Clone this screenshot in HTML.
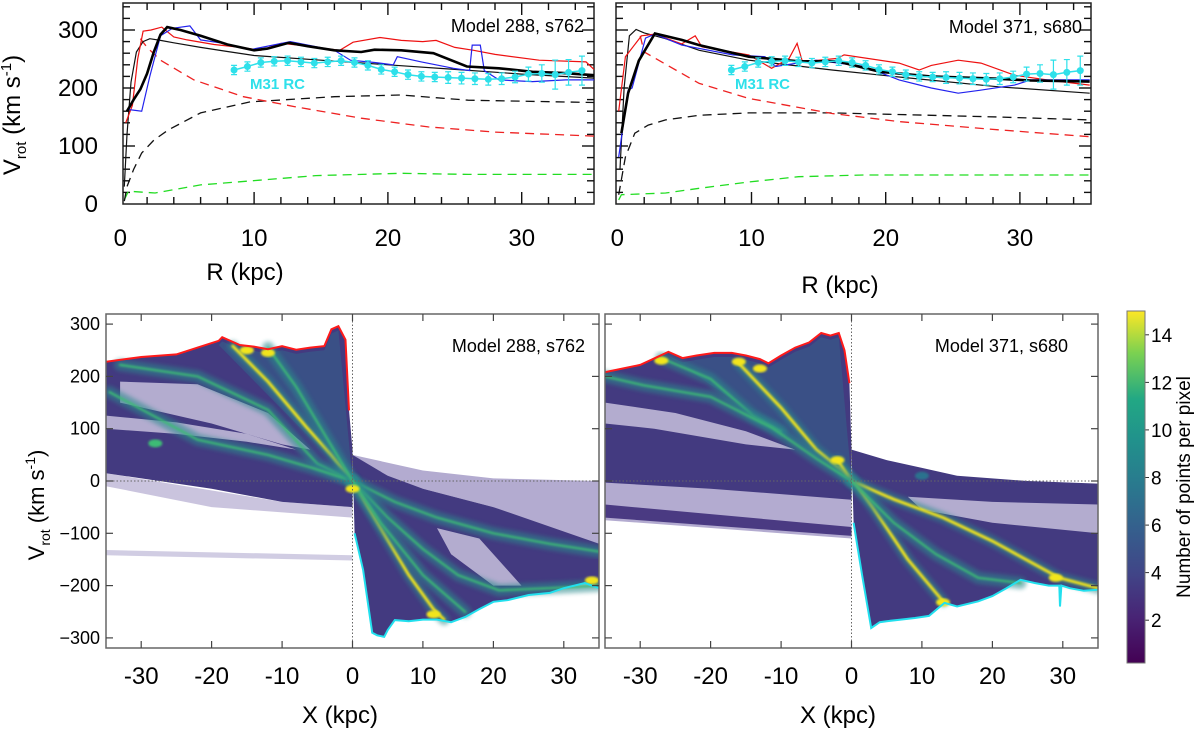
<!DOCTYPE html>
<html><head><meta charset="utf-8">
<style>
html,body{margin:0;padding:0;background:#fff;}
svg{display:block;font-family:"Liberation Sans",sans-serif;}
</style></head>
<body>
<svg id="fig" width="1200" height="730" viewBox="0 0 1200 730" xmlns="http://www.w3.org/2000/svg">
<defs>
<linearGradient id="viridis" x1="0" y1="1" x2="0" y2="0">
<stop offset="0" stop-color="#440154"/><stop offset="0.13" stop-color="#482475"/>
<stop offset="0.25" stop-color="#414487"/><stop offset="0.38" stop-color="#355f8d"/>
<stop offset="0.5" stop-color="#2a788e"/><stop offset="0.63" stop-color="#21918c"/>
<stop offset="0.75" stop-color="#22a884"/><stop offset="0.88" stop-color="#7ad151"/>
<stop offset="1" stop-color="#fde725"/></linearGradient>
<filter id="blur2"><feGaussianBlur stdDeviation="2"/></filter>
<filter id="blur1"><feGaussianBlur stdDeviation="1"/></filter>
<clipPath id="clipBL"><rect x="106" y="314" width="493" height="334"/></clipPath>
<clipPath id="clipBR"><rect x="605" y="314" width="493" height="334"/></clipPath>
</defs>
<g id="layer"></g>
<text x="20" y="115" transform="rotate(-90 20 115)" text-anchor="middle" font-size="24">V<tspan font-size="15" dy="6">rot</tspan><tspan dy="-6"> (km s</tspan><tspan font-size="15" dy="-9">-1</tspan><tspan dy="9">)</tspan></text>
<text x="44" y="505" transform="rotate(-90 44 505)" text-anchor="middle" font-size="22">V<tspan font-size="14" dy="6">rot</tspan><tspan dy="-6"> (km s</tspan><tspan font-size="14" dy="-9">-1</tspan><tspan dy="9">)</tspan></text>
<text x="245" y="280" text-anchor="middle" font-size="24">R  (kpc)</text>
<text x="840" y="293" text-anchor="middle" font-size="24">R  (kpc)</text>
<text x="340" y="723" text-anchor="middle" font-size="24">X  (kpc)</text>
<text x="838" y="723" text-anchor="middle" font-size="24">X  (kpc)</text>
<text x="584" y="32" text-anchor="end" font-size="18">Model 288, s762</text>
<text x="1082" y="33" text-anchor="end" font-size="18">Model 371, s680</text>
<text x="585" y="352" text-anchor="end" font-size="18">Model 288, s762</text>
<text x="1068" y="352" text-anchor="end" font-size="18">Model 371, s680</text>
<text x="250" y="89" font-size="15" font-weight="bold" fill="#2ee0ea">M31 RC</text>
<text x="735" y="89" font-size="15" font-weight="bold" fill="#2ee0ea">M31 RC</text>
<rect x="1127" y="311" width="18" height="352" fill="url(#viridis)" stroke="#777" stroke-width="1"/>
<text x="1190" y="487" transform="rotate(-90 1190 487)" text-anchor="middle" font-size="19">Number of points per pixel</text>
</svg>
<script>
const r288_thin=[0.3,0.5,0.8,1.2,1.7,2.2,3,4,6,8,10,15,20,25,30,35.4];
const v288_thin=[30,120,210,262,280,285,282,278,270,263,256,248,240,232,224,217];
const r288_thick=[0.5,1,1.5,2,2.5,3,3.5,4.5,6,8,10,11,12.6,14,16,18,19,21,23.4,25.9,28.3,30.8,33,35.4];
const v288_thick=[160,180,198,225,262,292,305,300,290,275,265,268,278,272,265,262,266,265,260,237,234,228,226,222];
const r288_red=[0.4,0.9,1.3,1.7,2.3,3.1,4,5,7,9,10.5,12,14,16.4,17.4,19.4,21,22.6,23.6,25,26.4,28,31.3,34.8,35.4];
const v288_red=[140,170,250,298,300,305,288,283,275,270,265,277,272,265,279,287,282,280,282,270,265,258,248,245,232];
const r288_blue=[0.6,1.6,2.2,3,3.9,5.2,6,7.7,9.7,12.7,16,17.2,19,20.4,20.7,22.5,24.9,26.1,26.3,26.6,26.9,27.2,28.3,30.8,33.3,35.4];
const v288_blue=[163,160,220,290,303,307,283,277,266,280,265,248,244,240,254,245,234,230,274,274,274,230,214,211,214,214];
const r288_disk=[1.5,2,3,5.5,9.2,13,18,23,28,35.4];
const v288_disk=[285,270,248,214,185,168,148,133,124,117];
const r288_halo=[0.3,0.5,1,1.6,2.5,3.6,6,9.7,16,21,26,35.4];
const v288_halo=[5,30,60,88,110,128,157,176,185,188,179,175];
const r288_gas=[0.3,0.6,2.6,6,10.4,14.6,21,26,35.4];
const v288_gas=[7,22,19,33,41,49,53,51,51];

const r371_thin=[0.2,0.5,0.9,1.4,2,3.6,6.1,9.8,16,21,28.4,35.2];
const v371_thin=[60,200,290,301,295,285,265,248,231,219,202,191];
const r371_thick=[0.3,0.8,1.6,2.8,4.8,6.1,9.8,13.5,16.4,19.6,23.3,28.3,30.8,35.2];
const v371_thick=[122,191,247,294,283,274,254,246,246,228,220,216,213,211];
const r371_red=[0.1,0.6,1.8,2.8,4.8,5.8,6.3,9.8,11.5,12.8,13.4,13.8,16.4,16.9,21,22.5,23.4,25.4,27.1,29.6,32,35.2];
const v371_red=[160,254,290,293,276,290,271,257,234,251,277,245,251,257,243,231,239,248,243,222,214,205];
const r371_blue=[0.1,0.8,1.1,2.1,2.8,4.8,8.6,11,11.8,14.8,18.4,21,23.4,25.4,27,29.6,30.8,35.2];
const v371_blue=[81,196,200,286,293,274,257,254,237,248,237,214,200,191,196,205,214,214];
const r371_disk=[1.7,2,6.1,9.8,16,21,28.4,35.2];
const v371_disk=[290,262,208,182,156,142,128,116];
const r371_halo=[0.1,0.6,1.3,2.3,3.6,6.1,9.8,16,23.4,28.4,35.2];
const v371_halo=[16,81,122,136,145,153,157,157,153,150,145];
const r371_gas=[0.1,0.3,3.6,6.1,9.8,13.5,18.4,35.2];
const v371_gas=[7,16,19,27,38,47,50,50];

const rcR=[8.5,9.5,10.5,11.5,12.5,13.5,14.5,15.5,16.5,17.5,18.5,19.5,20.5,21.5,22.5,23.5,24.5,25.5,26.5,27.5,28.5,29.5,30.5,31.5,32.5,33.5,34.5];
const rcV=[231,237,244,246,247,245,243,245,247,244,239,232,228,223,220,219,218,217,216,215,216,219,224,225,223,227,230];
const rcErr=[8,8,8,8,8,8,8,8,8,8,8,8,8,8,8,8,10,10,10,10,10,10,12,15,25,22,25];

const topYTicks=[0,100,200,300];
const topXTicks=[0,10,20,30];

const top288X=[-35,-30,-25,-22,-19,-18.5,-16,-14,-12,-10,-8,-6,-4,-3,-2,-1,-0.5];
const top288V=[228,237,242,255,268,275,260,257,252,258,251,255,258,290,296,270,135];
const bot288X=[0.3,1.5,2.8,3.5,4.5,5,6,8,10,12,14,16,18,20,22,25,28,30,33,35];
const bot288V=[-100,-170,-290,-295,-298,-285,-266,-268,-265,-265,-270,-260,-245,-231,-228,-218,-214,-205,-195,-205];
const low288X=[0,-10,-20,-35];
const low288V=[-50,-40,-15,15];
const up288X=[0,5,10,20,35];
const up288V=[50,10,-15,-50,-120];
const sparse288X=[0,10,20,35];
const sparse288V=[50,20,5,0];
const hole288aX=[-33,-22,-12,-6,-10,-20,-33];
const hole288aV=[190,185,130,60,70,110,150];
const hole288bX=[-35,-25,-15,-8,-15,-25,-35];
const hole288bV=[125,112,90,60,75,90,100];
const hole288cX=[12,18,24,20,14];
const hole288cV=[-90,-110,-200,-200,-140];
const streak288_1X=[-17,-12,-6.6,-3,0,4,8,11.5,13];
const streak288_1V=[258,190,104,50,0,-90,-180,-245,-265];
const streak288_2X=[-33,-22,-12,-5,0];
const streak288_2V=[222,200,136,33,0];
const streak288_3X=[-34.5,-22,-12,-5.7,0];
const streak288_3V=[170,79,50,25,0];
const streak288_4X=[0,6,12,20,28,35];
const streak288_4V=[0,-40,-70,-100,-120,-135];
const streak288_5X=[0,5,10,15,20.8,28,35];
const streak288_5V=[0,-70,-130,-180,-209,-205,-200];
const streak288_6X=[-12,-8,-4,0,4,10,16];
const streak288_6V=[255,180,90,0,-80,-180,-250];
const blob288X=[-15,-12,-28,11.5,0,34];
const blob288V=[250,245,72,-255,-15,-190];
const blob288Lvl=[3,3,2,3,3,3];

const top371X=[-35,-30,-26,-24,-22,-19.5,-17,-15,-13,-11.8,-10,-8,-6,-4.3,-3,-1.8,-1,-0.3];
const top371V=[208,222,247,235,240,245,245,240,233,225,240,255,265,283,278,283,250,187];
const bot371X=[0.3,1.5,2.8,4,5,7,9,11,13.2,15,18,20,22,24,26,28,29.5,29.6,29.8,31,33,35];
const bot371V=[-80,-180,-281,-270,-268,-265,-262,-258,-233,-240,-230,-220,-205,-189,-195,-200,-200,-240,-200,-205,-210,-208];
const low371X=[0,-10,-20,-35];
const low371V=[-36,-25,-15,-3];
const up371X=[0,5,10,15,25,35];
const up371V=[60,40,25,10,0,-5];
const band371X=[-35,0,0,-35];
const band371V=[-45,-88,-105,-70];
const gap371X=[8,20,35,35,20,10];
const gap371V=[-30,-40,-45,-100,-80,-55];
const hole371X=[-35,-25,-15,-8,-15,-28,-35];
const hole371V=[150,130,95,60,70,100,110];
const streak371_1X=[-16,-10,-5,0,3,8,13];
const streak371_1V=[225,140,60,5,-50,-150,-230];
const streak371_2X=[-2,0,6,13,20,29.5,35];
const streak371_2V=[40,0,-35,-70,-115,-185,-205];
const streak371_3X=[-27,-20,-14,-10];
const streak371_3V=[235,195,125,95];
const streak371_4X=[-35,-29.5,-20,-11.2,-5,0];
const streak371_4V=[200,183,161,101,43,0];
const streak371_5X=[0,6,12,18,24];
const streak371_5V=[0,-80,-140,-185,-195];
const blob371X=[-27,-16,-13,13,29,10,-2];
const blob371V=[230,228,215,-232,-185,10,40];
const blob371Lvl=[3,3,3,3,3,1,3];

const botYTicks=[-300,-200,-100,0,100,200,300];
const botXTicks=[-30,-20,-10,0,10,20,30];
const cbTicks=[2,4,6,8,10,12,14];

const NS='http://www.w3.org/2000/svg';
const layer=document.getElementById('layer');
function el(tag,parent){const e=document.createElementNS(NS,tag);parent.appendChild(e);return e;}
function pathD(xs,ys,sx,sy){return xs.map((x,i)=>(i?'L':'M')+sx(x).toFixed(1)+','+sy(ys[i]).toFixed(1)).join('');}
// tick as a thin filled rect
function tickRect(g,x,y,w,h,color,name){
  const r=el('rect',g);
  r.setAttribute('x',(w<0?x+w:x).toFixed(1));r.setAttribute('y',(h<0?y+h:y).toFixed(1));
  r.setAttribute('width',Math.abs(w).toFixed(1));r.setAttribute('height',Math.abs(h).toFixed(1));
  r.setAttribute('fill',color);
  
  
}

const PT={L:{x0:123,x1:594,r0:0.2,r1:35.4},R:{x0:616,x1:1091,r0:-0.1,r1:35.3}};
function topSx(p){return r=>p.x0+(r-p.r0)*(p.x1-p.x0)/(p.r1-p.r0);}
const topSy=v=>204-v*0.58;

function drawTop(p,key,series){
  const sx=topSx(p);
  const g=el('g',layer);
  
  
  const frame=el('rect',g);
  frame.setAttribute('x',p.x0);frame.setAttribute('y',3);frame.setAttribute('width',p.x1-p.x0);frame.setAttribute('height',201);
  frame.setAttribute('fill','none');frame.setAttribute('stroke','#222');frame.setAttribute('stroke-width','1.5');
  
  
  const tg=el('g',g);
  
  
  for(let r=2;r<=35;r+=2){const x=sx(r);const L=(r%10===0)?12:7;
    tickRect(tg,x-0.7,204,1.4,-L,'#111',key+'-x-tick');
    tickRect(tg,x-0.7,3,1.4,L,'#111',key+'-x-tick-top');}
  for(let v=20;v<=340;v+=20){const y=topSy(v);const L=(v%100===0)?12:7;
    tickRect(tg,p.x0,y-0.7,L,1.4,'#111',key+'-y-tick');
    tickRect(tg,p.x1,y-0.7,-L,1.4,'#111',key+'-y-tick-right');}
  series.forEach(s=>{
    const pth=el('path',g);
    pth.setAttribute('d',pathD(s.r,s.v,sx,topSy));
    pth.setAttribute('fill','none');pth.setAttribute('stroke',s.c);pth.setAttribute('stroke-width',s.w);
    if(s.dash)pth.setAttribute('stroke-dasharray',s.dash);
    
    
  });
  const rc=el('g',g);
  
  
  const ln=el('path',rc);ln.setAttribute('d',pathD(rcR,rcV,sx,topSy));ln.setAttribute('fill','none');ln.setAttribute('stroke','#2ee0ea');ln.setAttribute('stroke-width','1.5');
  
  
  rcR.forEach((r,i)=>{
    const x=sx(r),y1=topSy(rcV[i]+rcErr[i]),y2=topSy(rcV[i]-rcErr[i]);
    const e=el('path',rc);e.setAttribute('d',`M${x},${y1}V${y2}M${x-3},${y1}h6M${x-3},${y2}h6`);e.setAttribute('stroke','#2ee0ea');e.setAttribute('stroke-width','1.2');
    
    
    const c=el('circle',rc);c.setAttribute('cx',x);c.setAttribute('cy',topSy(rcV[i]));c.setAttribute('r',3.5);c.setAttribute('fill','#2ee0ea');
    
    
  });
  topXTicks.forEach(t=>{
    const tx=el('text',g);tx.setAttribute('x',sx(t));tx.setAttribute('y',246);tx.setAttribute('text-anchor','middle');tx.setAttribute('font-size','24');tx.textContent=t;
    
    
  });
  if(p===PT.L){
    topYTicks.forEach(t=>{
      const tx=el('text',g);tx.setAttribute('x',98);tx.setAttribute('y',topSy(t)+8);tx.setAttribute('text-anchor','end');tx.setAttribute('font-size','24');tx.textContent=t;
      
      
    });
  }
}
drawTop(PT.L,'top-left',[
 {r:r288_gas,v:v288_gas,c:'#22dd22',w:1.3,dash:'9,6',n:'gas-dashed'},
 {r:r288_halo,v:v288_halo,c:'#111',w:1.3,dash:'9,6',n:'halo-dashed'},
 {r:r288_disk,v:v288_disk,c:'#ee2222',w:1.3,dash:'9,6',n:'disk-dashed'},
 {r:r288_thin,v:v288_thin,c:'#111',w:1.2,n:'model-total'},
 {r:r288_red,v:v288_red,c:'#ee1111',w:1.2,n:'red-curve'},
 {r:r288_blue,v:v288_blue,c:'#2222ee',w:1.2,n:'blue-curve'},
 {r:r288_thick,v:v288_thick,c:'#000',w:2.6,n:'mean-curve'}]);
drawTop(PT.R,'top-right',[
 {r:r371_gas,v:v371_gas,c:'#22dd22',w:1.3,dash:'9,6',n:'gas-dashed'},
 {r:r371_halo,v:v371_halo,c:'#111',w:1.3,dash:'9,6',n:'halo-dashed'},
 {r:r371_disk,v:v371_disk,c:'#ee2222',w:1.3,dash:'9,6',n:'disk-dashed'},
 {r:r371_thin,v:v371_thin,c:'#111',w:1.2,n:'model-total'},
 {r:r371_red,v:v371_red,c:'#ee1111',w:1.2,n:'red-curve'},
 {r:r371_blue,v:v371_blue,c:'#2222ee',w:1.2,n:'blue-curve'},
 {r:r371_thick,v:v371_thick,c:'#000',w:2.6,n:'mean-curve'}]);

const PB={L:{x0:106,x1:599,clip:'clipBL'},R:{x0:605,x1:1098,clip:'clipBR'}};
function botSx(p){return X=>p.x0+(X+35)*(p.x1-p.x0)/70;}
const botSy=v=>481-v*0.523;
const lvlColor=['#433a80','#2c728e','#3cbb75','#f2e51d'];
function poly(g,xs,ys,sx,fill,name,op){
  const e=el('path',g);e.setAttribute('d',pathD(xs,ys,sx,botSy)+'Z');e.setAttribute('fill',fill);
  if(op)e.setAttribute('opacity',op);
  
  
  return e;
}
function drawBot(p,key,d){
  const sx=botSx(p);
  const g=el('g',layer);
  
  
  const pg=el('g',g);pg.setAttribute('clip-path',`url(#${p.clip})`);
  
  
  d.sparse.forEach(s=>poly(pg,s[0],s[1],sx,'#b3abd0',key+'-sparse-region',s[2]||1));
  poly(pg,d.topX.concat([0],d.lowX),d.topV.concat([60],d.lowV),sx,'#433a80',key+'-dense-region-left');
  poly(pg,d.upX.concat(d.botX.slice().reverse()),d.upV.concat(d.botV.slice().reverse()),sx,'#433a80',key+'-dense-region-right');
  d.extra.forEach(s=>poly(pg,s[0],s[1],sx,'#4a3a82',key+'-dense-band'));
  d.holes.forEach(s=>poly(pg,s[0],s[1],sx,'#cfc9e2',key+'-sparse-hole',0.8));
  const fx=[],fv=[];
  d.topX.forEach((x,i)=>{if(x>=d.fanFrom&&x<=d.fanTo){fx.push(x);fv.push(d.topV[i]-8);}});
  fx.push(0);fv.push(0);
  poly(pg,fx,fv,sx,'#2c728e',key+'-fan-glow',0.4);
  d.streaks.forEach(s=>{
    const w=[0,10,6,5][s[2]];
    const a=el('path',pg);a.setAttribute('d',pathD(s[0],s[1],sx,botSy));a.setAttribute('fill','none');a.setAttribute('stroke','#2c8a8d');a.setAttribute('stroke-width',w+6);a.setAttribute('opacity','0.55');a.setAttribute('filter','url(#blur2)');a.setAttribute('stroke-linecap','round');
    
    
    const b=el('path',pg);b.setAttribute('d',pathD(s[0],s[1],sx,botSy));b.setAttribute('fill','none');b.setAttribute('stroke',lvlColor[s[2]]);b.setAttribute('stroke-width',s[2]===3?3:2.2);b.setAttribute('stroke-linecap','round');b.setAttribute('filter','url(#blur1)');
    
    
  });
  d.blobX.forEach((bx,i)=>{
    const c=el('ellipse',pg);c.setAttribute('cx',sx(bx));c.setAttribute('cy',botSy(d.blobV[i]));c.setAttribute('rx',7);c.setAttribute('ry',4);c.setAttribute('fill',lvlColor[d.blobL[i]]);c.setAttribute('filter','url(#blur1)');
    
    
  });
  const t=el('path',pg);t.setAttribute('d',pathD(d.topX,d.topV,sx,botSy));t.setAttribute('fill','none');t.setAttribute('stroke','#ff1a1a');t.setAttribute('stroke-width','2');
  
  
  const b=el('path',pg);b.setAttribute('d',pathD(d.botX,d.botV,sx,botSy));b.setAttribute('fill','none');b.setAttribute('stroke','#22e0ee');b.setAttribute('stroke-width','2');
  
  
  const z=el('path',g);z.setAttribute('d',`M${sx(0)},314V648M${p.x0},${botSy(0)}H${p.x1}`);z.setAttribute('stroke','#666');z.setAttribute('stroke-width','1');z.setAttribute('stroke-dasharray','1.5,2');
  
  
  const f=el('rect',g);f.setAttribute('x',p.x0);f.setAttribute('y',314);f.setAttribute('width',p.x1-p.x0);f.setAttribute('height',334);f.setAttribute('fill','none');f.setAttribute('stroke','#666');f.setAttribute('stroke-width','1.5');
  
  
  const tg=el('g',g);
  
  
  botXTicks.forEach(t=>{const x=sx(t);
    tickRect(tg,x-0.6,648,1.2,-7,'#444',key+'-x-tick');
    tickRect(tg,x-0.6,314,1.2,7,'#444',key+'-x-tick-top');});
  botYTicks.forEach(t=>{const y=botSy(t);
    tickRect(tg,p.x0,y-0.6,7,1.2,'#444',key+'-y-tick');
    tickRect(tg,p.x1,y-0.6,-7,1.2,'#444',key+'-y-tick-right');});
  botXTicks.forEach(t=>{
    const tx=el('text',g);tx.setAttribute('x',sx(t));tx.setAttribute('y',684);tx.setAttribute('text-anchor','middle');tx.setAttribute('font-size','24');tx.textContent=t;
    
    
  });
  if(p===PB.L){
    botYTicks.forEach(t=>{
      const tx=el('text',g);tx.setAttribute('x',100);tx.setAttribute('y',botSy(t)+6);tx.setAttribute('text-anchor','end');tx.setAttribute('font-size','18');tx.textContent=t<0?'\u2212'+(-t):t;
      
      
    });
  }
}
drawBot(PB.L,'bottom-left',{
  topX:top288X,topV:top288V,botX:bot288X,botV:bot288V,lowX:low288X,lowV:low288V,upX:up288X,upV:up288V,
  sparse:[[sparse288X.concat([35,20,10,0]),sparse288V.concat([-130,-50,-15,10])],[[-35,0,0,-35],[-132,-142,-152,-142],0.6],[[-35,-10,0,0,-20,-35],[15,-40,-50,-70,-50,-10],0.7]],
  extra:[],
  holes:[[hole288aX,hole288aV],[hole288bX,hole288bV],[hole288cX,hole288cV]],
  fanFrom:-19,fanTo:-2,
  streaks:[[streak288_1X,streak288_1V,3],[streak288_2X,streak288_2V,2],[streak288_3X,streak288_3V,2],[streak288_4X,streak288_4V,2],[streak288_5X,streak288_5V,2],[streak288_6X,streak288_6V,2]],
  blobX:blob288X,blobV:blob288V,blobL:blob288Lvl});
drawBot(PB.R,'bottom-right',{
  topX:top371X,topV:top371V,botX:bot371X,botV:bot371V,lowX:low371X,lowV:low371V,upX:up371X,upV:up371V,
  sparse:[[[-35,0,0,-35],[0,-30,-110,-75]]],
  extra:[[band371X,band371V]],
  holes:[[gap371X,gap371V],[hole371X,hole371V]],
  fanFrom:-26,fanTo:-1.8,
  streaks:[[streak371_1X,streak371_1V,3],[streak371_2X,streak371_2V,3],[streak371_3X,streak371_3V,2],[streak371_4X,streak371_4V,2],[streak371_5X,streak371_5V,2]],
  blobX:blob371X,blobV:blob371V,blobL:blob371Lvl});

const cbY=v=>663-(v-0.2)*(352/14.8);
const cbg=el('g',layer);


cbTicks.forEach(t=>{
  tickRect(cbg,1145,cbY(t)-0.5,4,1,'#333','colorbar-tick');
  const tx=el('text',cbg);tx.setAttribute('x',1151);tx.setAttribute('y',cbY(t)+7);tx.setAttribute('font-size','19');tx.textContent=t;
  
  
});
</script>
</body></html>
